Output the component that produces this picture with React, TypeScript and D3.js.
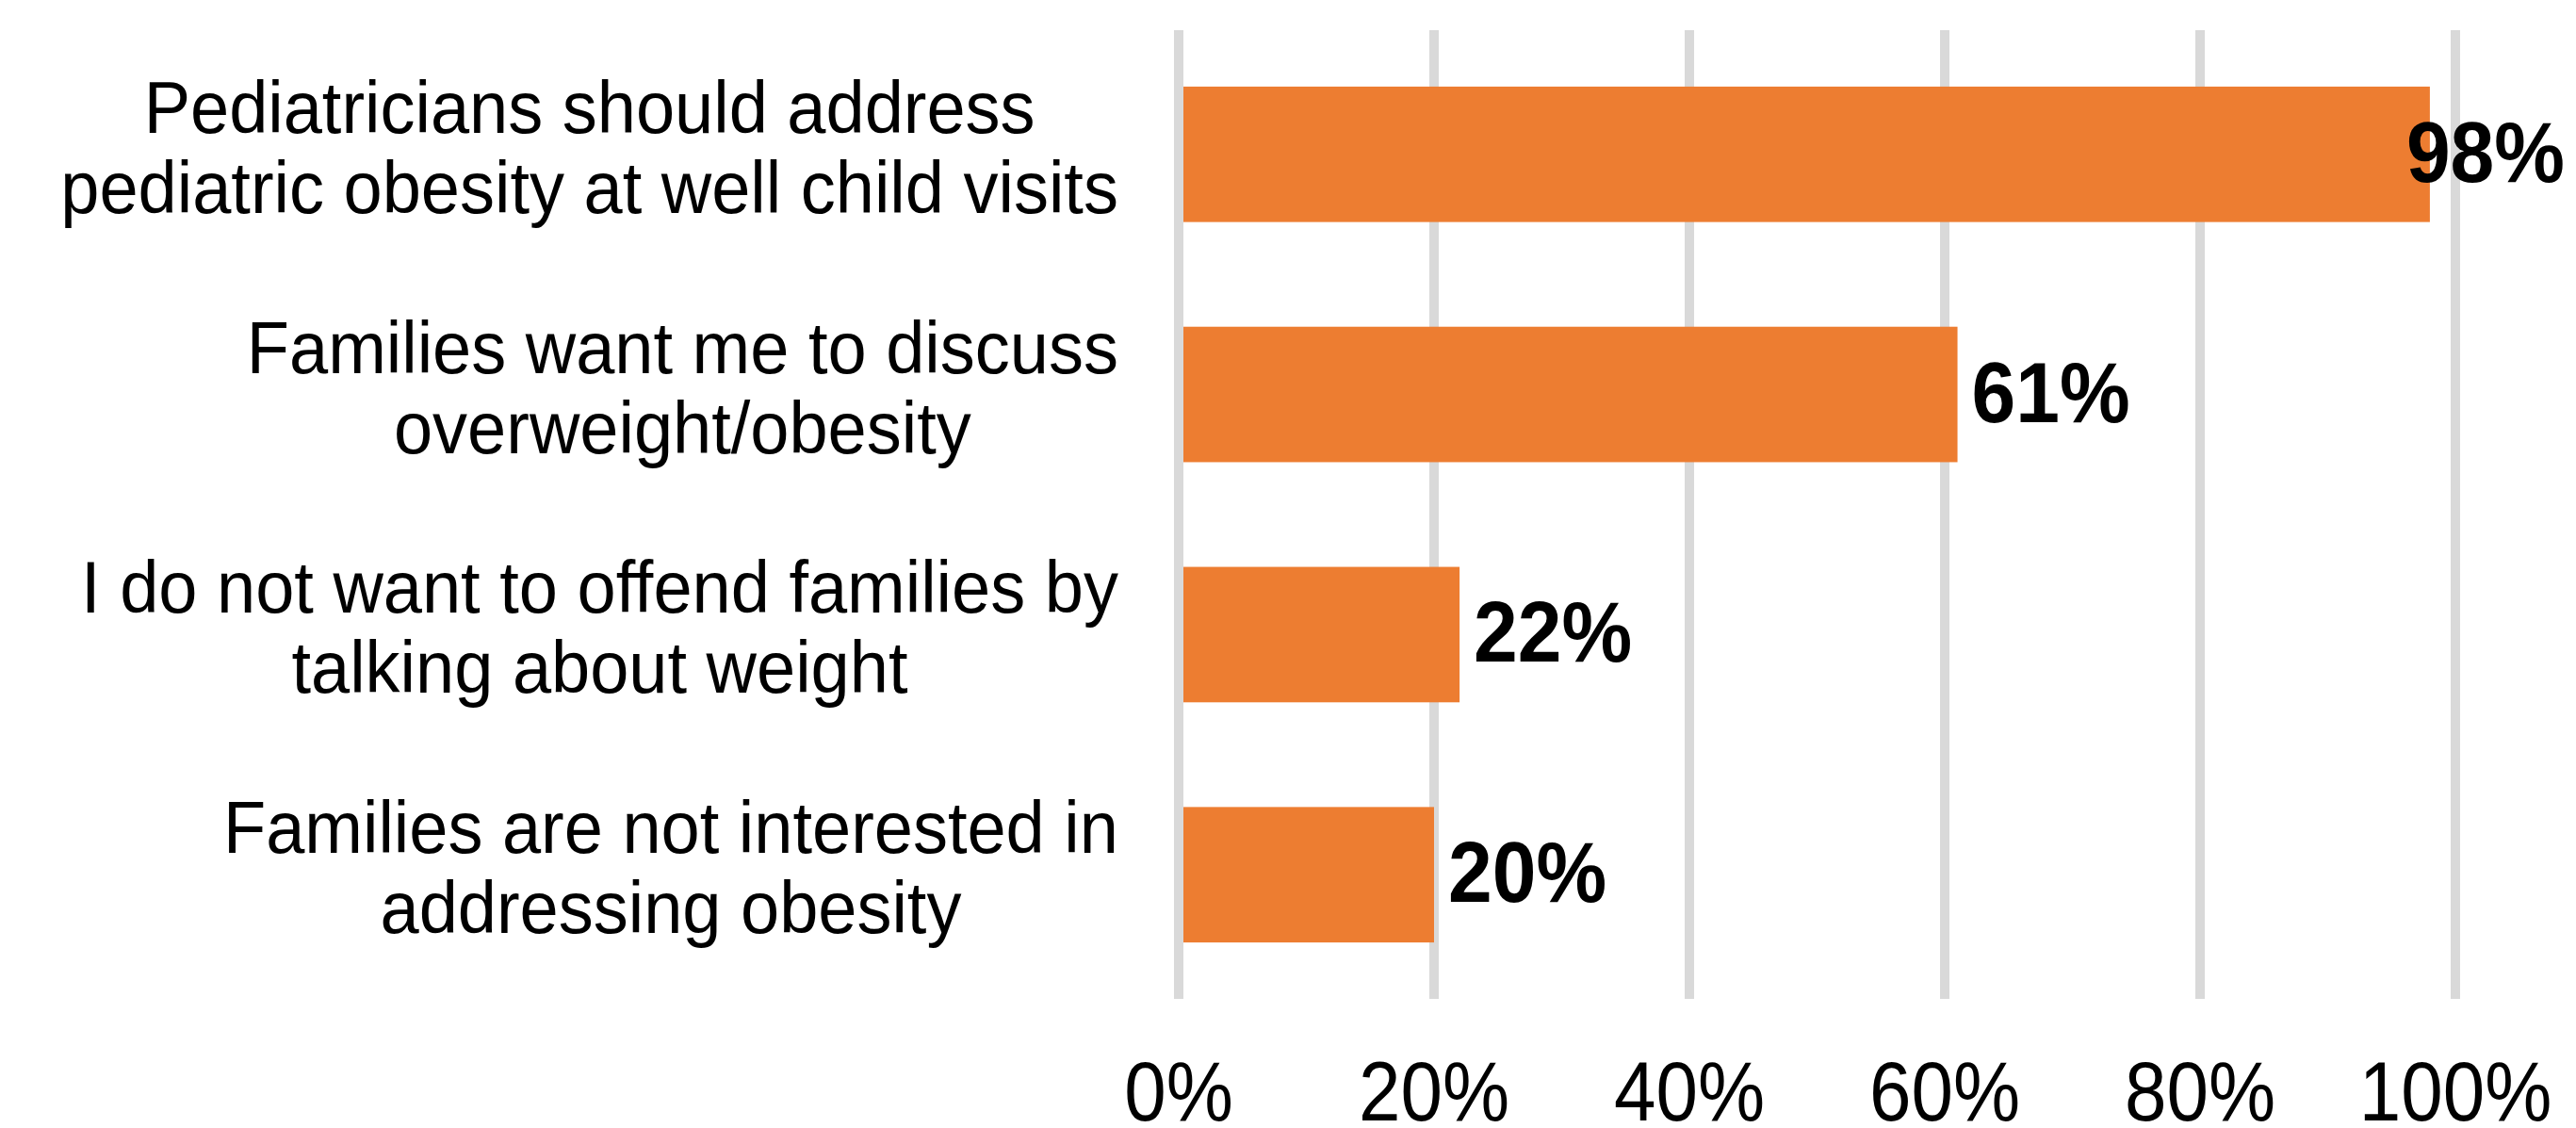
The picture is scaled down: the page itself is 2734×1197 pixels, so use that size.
import React from "react";
import * as d3 from "d3";

const categoryLines: string[][] = [
  ["Pediatricians should address", "pediatric obesity at well child visits"],
  ["Families want me to discuss", "overweight/obesity"],
  ["I do not want to offend families by", "talking about weight"],
  ["Families are not interested in", "addressing obesity"],
];
const values: number[] = [0.98, 0.61, 0.22, 0.2];
const tickValues: number[] = [0, 0.2, 0.4, 0.6, 0.8, 1.0];

const W = 2734;
const H = 1197;
const FONT = "'Liberation Sans', Arial, sans-serif";
const CAT_SIZE = 74;
const VAL_SIZE = 84;
const TICK_SIZE = 80;

let ctx: CanvasRenderingContext2D | null = null;
function measure(text: string, size: number, bold = false): number {
  if (!ctx) {
    const c = document.createElement("canvas");
    ctx = c.getContext("2d");
  }
  if (!ctx) return text.length * size * 0.5;
  ctx.font = `${bold ? "bold " : ""}${size}px ${FONT}`;
  return ctx.measureText(text).width;
}

export default function App() {
  const x = d3.scaleLinear().domain([0, 1]).range([1251, 2606]);
  const y = d3
    .scaleBand<number>()
    .domain(d3.range(categoryLines.length))
    .range([32, 1060])
    .paddingInner(0.436)
    .paddingOuter(0.235);

  const labelRight = 1187;
  const valueRightLimit = 2722;
  const fmt = d3.format(".0%");

  return (
    <svg
      width={W}
      height={H}
      style={{ position: "fixed", left: 0, top: 0, display: "block", background: "#fff" }}
      fontFamily={FONT}
    >
      <rect x={0} y={0} width={W} height={H} fill="#fff" />
      {tickValues.map((t) => (
        <line
          key={"g" + t}
          x1={x(t)}
          x2={x(t)}
          y1={32}
          y2={1060}
          stroke="#d9d9d9"
          strokeWidth={10}
        />
      ))}
      {values.map((v, i) => {
        const y0 = y(i) as number;
        return (
          <rect
            key={"b" + i}
            x={x(0) + 5}
            y={y0}
            width={x(v) - x(0) - 5}
            height={y.bandwidth()}
            fill="#ED7D31"
          />
        );
      })}
      {values.map((v, i) => {
        const cy = (y(i) as number) + y.bandwidth() / 2;
        const txt = fmt(v);
        const w = measure(txt, VAL_SIZE, true);
        let lx = x(v) + 15;
        if (lx + w > valueRightLimit) lx = valueRightLimit - w;
        return (
          <text
            key={"v" + i}
            transform={`translate(${lx},${cy + 29}) scale(1,1.08)`}
            fontSize={VAL_SIZE}
            fontWeight="bold"
            fill="#000"
          >
            {txt}
          </text>
        );
      })}
      {categoryLines.map((lines, i) => {
        const cy = (y(i) as number) + y.bandwidth() / 2;
        const maxW = d3.max(lines, (l) => measure(l, CAT_SIZE)) || 0;
        const cx = labelRight - maxW / 2;
        return (
          <g key={"c" + i}>
            {lines.map((l, j) => (
              <text
                key={j}
                transform={`translate(${cx},${cy - 23 + j * 85}) scale(1,1.05)`}
                textAnchor="middle"
                fontSize={CAT_SIZE}
                fill="#000"
              >
                {l}
              </text>
            ))}
          </g>
        );
      })}
      {tickValues.map((t) => (
        <text
          key={"t" + t}
          transform={`translate(${x(t)},1189) scale(1,1.1)`}
          textAnchor="middle"
          fontSize={TICK_SIZE}
          fill="#000"
        >
          {fmt(t)}
        </text>
      ))}
    </svg>
  );
}
